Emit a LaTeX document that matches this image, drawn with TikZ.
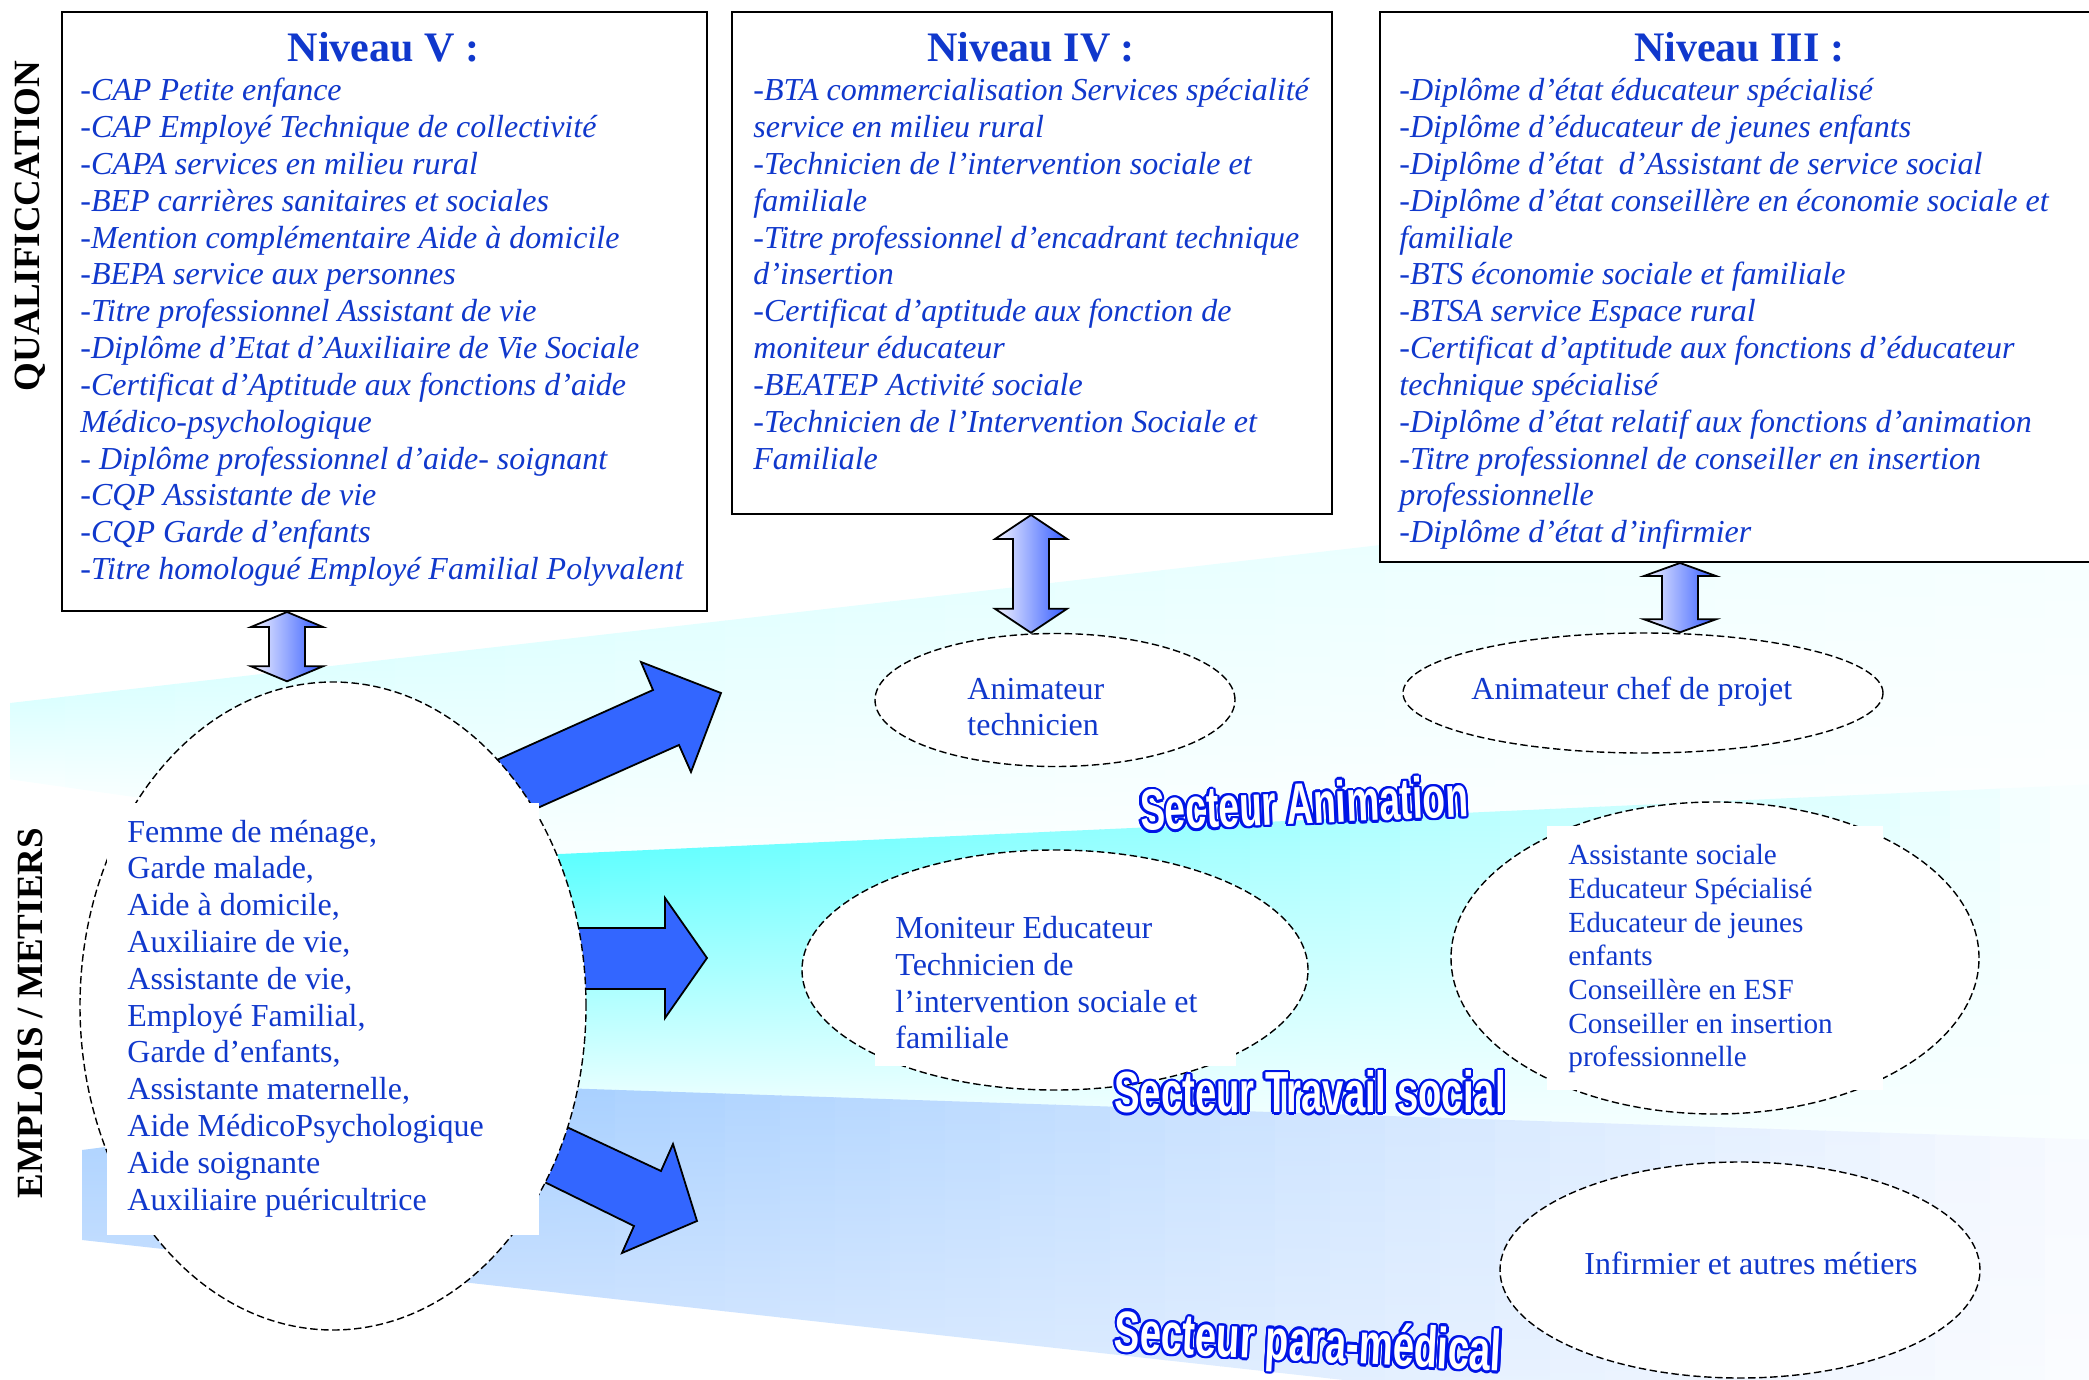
\documentclass[tikz,border=0pt]{standalone}
\usepackage{fontspec}
\setmainfont{Liberation Serif}
\newfontfamily\secfont{Liberation Sans}
\usepackage{graphicx}
\usetikzlibrary{shapes.geometric,calc}

\definecolor{txtblue}{RGB}{16,56,204}
\definecolor{secblue}{RGB}{0,20,230}
\definecolor{arrowblue}{RGB}{51,102,255}
\definecolor{dblL}{RGB}{245,245,255}
\definecolor{dblR}{RGB}{50,90,255}
\definecolor{AtopL}{RGB}{218,255,255}
\definecolor{AtopR}{RGB}{244,255,255}
\definecolor{AbotL}{RGB}{248,255,255}
\definecolor{AbotR}{RGB}{253,255,255}
\definecolor{TtopL}{RGB}{90,255,255}
\definecolor{TtopR}{RGB}{250,255,255}
\definecolor{TbotL}{RGB}{232,255,255}
\definecolor{TbotR}{RGB}{250,255,255}
\definecolor{MtopL}{RGB}{168,208,255}
\definecolor{MtopR}{RGB}{248,250,255}
\definecolor{MbotL}{RGB}{200,224,255}
\definecolor{MbotR}{RGB}{252,253,255}

\newcommand{\dblarrowpath}[3]{%
  \path[dblarrowstyle] let \p1=(#1), \p2=(#2) in
   (\x1,\y1) -- ({\x1+18pt},{\y1-#3}) -- ({\x1+9pt},{\y1-#3}) -- ({\x1+9pt},{\y2+#3})
   -- ({\x1+18pt},{\y2+#3}) -- (\x1,\y2) -- ({\x1-18pt},{\y2+#3}) -- ({\x1-9pt},{\y2+#3})
   -- ({\x1-9pt},{\y1-#3}) -- ({\x1-18pt},{\y1-#3}) -- cycle;
}
\newcommand{\sectorlabel}[5]{%
  \foreach \a [count=\k] in {0,22.5,...,337.5}{%
    \node[sectortxt, text=secblue, rotate=#3, shift={(\a:1.2pt)}] (#1o\k) at #2 {\scalebox{#4}[1]{#5}};
  }
  \node[sectortxt, text=white, rotate=#3] (#1) at #2 {\scalebox{#4}[1]{#5}};
}

\begin{document}
\begin{tikzpicture}[x=0.5pt,y=-0.5pt,
  box/.style={draw=black, line width=1pt, fill=white, inner sep=0pt, anchor=north west},
  itemtxt/.style={anchor=base west, inner sep=0pt, text=txtblue, font=\fontsize{16}{18}\selectfont\itshape},
  jobtxt/.style={anchor=base west, inner sep=0pt, text=txtblue, font=\fontsize{16}{18}\selectfont},
  smalljob/.style={anchor=base west, inner sep=0pt, text=txtblue, font=\fontsize{14.6}{17}\selectfont},
  leveltitle/.style={anchor=base, inner sep=0pt, text=txtblue, font=\fontsize{21}{24}\selectfont\bfseries},
  sidelabel/.style={rotate=90, inner sep=0pt, font=\fontsize{18.5}{20}\selectfont\bfseries},
  dashell/.style={ellipse, draw=black, dash pattern=on 3.7pt off 1.8pt, line width=0.7pt, fill=white, inner sep=0pt},
  blockarrow/.style={draw=black, line width=0.9pt, fill=arrowblue, line join=miter},
  dblarrowstyle/.style={draw=black, line width=0.9pt, left color=dblL, right color=dblR, line join=miter},
  sectortxt/.style={inner sep=0pt, font=\secfont\bfseries\fontsize{29}{30}\selectfont},
]
\useasboundingbox (0,0) rectangle (2089,1380);
\clip (0,0) rectangle (2089,1380);

% ---------- sector bands ----------
% Animation
\foreach \i in {0,...,37}{
  \pgfmathsetmacro\xa{10+55*\i}
  \pgfmathsetmacro\xb{\xa+56}
  \pgfmathsetmacro\yta{703-0.1153*(\xa-10)}
  \pgfmathsetmacro\ytb{703-0.1153*(\xb-10)}
  \pgfmathsetmacro\yba{\xa<560 ? 780+(\xa-15)*0.1431 : 858-0.0377*(\xa-560)}
  \pgfmathsetmacro\ybb{\xb<560 ? 780+(\xb-15)*0.1431 : 858-0.0377*(\xb-560)}
  \pgfmathtruncatemacro\p{max(0,min(100,100-(\xa+17)/20.9))}
  \shade[top color=AtopL!\p!AtopR, bottom color=AbotL!\p!AbotR]
    (\xa,\yta) -- (\xb,\ytb) -- (\xb,\ybb) -- (\xa,\yba) -- cycle;
}
% Travail social
\foreach \i in {0,...,35}{
  \pgfmathsetmacro\xa{300+50*\i}
  \pgfmathsetmacro\xb{\xa+51}
  \pgfmathsetmacro\yta{854-0.04545*(\xa-560)}
  \pgfmathsetmacro\ytb{854-0.04545*(\xb-560)}
  \pgfmathsetmacro\yba{1085+0.0333*(\xa-300)}
  \pgfmathsetmacro\ybb{1085+0.0333*(\xb-300)}
  \pgfmathtruncatemacro\p{max(0,min(100,100-(\xa-535)/15.4))}
  \shade[top color=TtopL!\p!TtopR, bottom color=TbotL!\p!TbotR]
    (\xa,\yta) -- (\xb,\ytb) -- (\xb,\ybb) -- (\xa,\yba) -- cycle;
}
% para-medical
\shade[top color=MtopL, bottom color=MbotL] (82,1150) -- (561,1088) -- (561,1293) -- (82,1240) -- cycle;
\foreach \i in {0,...,27}{
  \pgfmathsetmacro\xa{560+55*\i}
  \pgfmathsetmacro\xb{\xa+56}
  \pgfmathsetmacro\yta{1088+0.03377*(\xa-560)}
  \pgfmathsetmacro\ytb{1088+0.03377*(\xb-560)}
  \pgfmathsetmacro\yba{1293+0.111*(\xa-560)}
  \pgfmathsetmacro\ybb{1293+0.111*(\xb-560)}
  \pgfmathtruncatemacro\p{max(0,min(100,100-(\xa-533)/15.4))}
  \shade[top color=MtopL!\p!MtopR, bottom color=MbotL!\p!MbotR]
    (\xa,\yta) -- (\xb,\ytb) -- (\xb,\ybb) -- (\xa,\yba) -- cycle;
}

% ---------- big block arrows ----------
\draw[blockarrow] (470,772) -- (653,690) -- (641,662) -- (721,693) -- (691,772) -- (679,745) -- (515,818) -- cycle;
\draw[blockarrow] (540,928) -- (665,928) -- (665,898) -- (707,958) -- (665,1018) -- (665,989) -- (540,989) -- cycle;
\draw[blockarrow] (541,1115) -- (661,1171) -- (673,1144) -- (697,1221) -- (622,1253) -- (634,1226) -- (520,1170) -- cycle;

% ---------- ellipses ----------
\node[dashell, minimum width=253pt, minimum height=324pt] (jobs) at (333,1006) {};
\fill[white] (107,803) rectangle (539,1235);
\node[dashell, minimum width=180pt, minimum height=66.5pt] (anim1) at (1055,700) {};
\node[dashell, minimum width=240pt, minimum height=60pt] (anim2) at (1643,693) {};
\node[dashell, minimum width=253pt, minimum height=120pt] (soc1) at (1055,970) {};
\fill[white] (875,905) rectangle (1236,1066);
\node[dashell, minimum width=264pt, minimum height=156pt] (soc2) at (1715,958) {};
\fill[white] (1547,826) rectangle (1883,1090);
\node[dashell, minimum width=240pt, minimum height=108pt] (med1) at (1740,1270) {};

% ---------- boxes ----------
\node[box, minimum width=322.5pt, minimum height=299.5pt] (boxV) at (61,11) {};
\node[box, minimum width=300pt, minimum height=251pt] (boxIV) at (731,11) {};
\node[box, minimum width=360.5pt, minimum height=275pt] (boxIII) at (1379,11) {};

% ---------- double arrows ----------
\coordinate (vTop) at (287,0 |- boxV.south);
\coordinate (vBot) at (287,0 |- jobs.north);
\coordinate (ivTop) at (1031,0 |- boxIV.south);
\coordinate (ivBot) at (1031,0 |- anim1.north);
\coordinate (iiiTop) at (1680,0 |- boxIII.south);
\coordinate (iiiBot) at (1680,0 |- anim2.north);
\dblarrowpath{vTop}{vBot}{7.5pt}
\dblarrowpath{ivTop}{ivBot}{12pt}
\dblarrowpath{iiiTop}{iiiBot}{6.5pt}

% ---------- titles ----------
\node[leveltitle] (tV) at (383.5,62) {Niveau V :};
\node[leveltitle] (tIV) at (1031,62) {Niveau IV :};
\node[leveltitle] (tIII) at (1739,62) {Niveau III :};

% ---------- lists ----------
\foreach \t [count=\i from 0] in {
  -CAP Petite enfance,
  -CAP Employé Technique de collectivité,
  -CAPA services en milieu rural,
  -BEP carrières sanitaires et sociales,
  -Mention complémentaire Aide à domicile,
  -BEPA service aux personnes,
  -Titre professionnel Assistant de vie,
  -Diplôme d’Etat d’Auxiliaire de Vie Sociale,
  -Certificat d’Aptitude aux fonctions d’aide,
  Médico-psychologique,
  - Diplôme professionnel d’aide- soignant,
  -CQP Assistante de vie,
  -CQP Garde d’enfants,
  -Titre homologué Employé Familial Polyvalent}
  \node[itemtxt] (v\i) at (80,{101+36.8*\i}) {\t};

\foreach \t [count=\i from 0] in {
  -BTA commercialisation Services spécialité,
  service en milieu rural,
  -Technicien de l’intervention sociale et,
  familiale,
  -Titre professionnel d’encadrant technique,
  d’insertion,
  -Certificat d’aptitude aux fonction de,
  moniteur éducateur,
  -BEATEP Activité sociale,
  -Technicien de l’Intervention Sociale et,
  Familiale}
  \node[itemtxt] (iv\i) at (753,{101+36.8*\i}) {\t};

\foreach \t [count=\i from 0] in {
  -Diplôme d’état éducateur spécialisé,
  -Diplôme d’éducateur de jeunes enfants,
  -Diplôme d’état \ d’Assistant de service social,
  -Diplôme d’état conseillère en économie sociale et,
  familiale,
  -BTS économie sociale et familiale,
  -BTSA service Espace rural,
  -Certificat d’aptitude aux fonctions d’éducateur,
  technique spécialisé,
  -Diplôme d’état relatif aux fonctions d’animation,
  -Titre professionnel de conseiller en insertion,
  professionnelle,
  -Diplôme d’état d’infirmier}
  \node[itemtxt] (iii\i) at (1399,{101+36.8*\i}) {\t};

\foreach \t [count=\i from 0] in {
  {Femme de ménage,},
  {Garde malade,},
  {Aide à domicile,},
  {Auxiliaire de vie,},
  {Assistante de vie,},
  {Employé Familial,},
  {Garde d’enfants,},
  {Assistante maternelle,},
  {Aide MédicoPsychologique},
  {Aide soignante},
  {Auxiliaire puéricultrice}}
  \node[jobtxt] (j\i) at (127,{842+36.8*\i}) {\t};

\node[jobtxt] (a1a) at (967,699) {Animateur};
\node[jobtxt] (a1b) at (967,735.8) {technicien};
\node[jobtxt] (a2) at (1471,699) {Animateur chef de projet};

\foreach \t [count=\i from 0] in {
  Moniteur Educateur, Technicien de, l’intervention sociale et, familiale}
  \node[jobtxt] (s1\i) at (895,{938.5+36.8*\i}) {\t};

\foreach \t [count=\i from 0] in {
  Assistante sociale, Educateur Spécialisé, Educateur de jeunes, enfants,
  Conseillère en ESF, Conseiller en insertion, professionnelle}
  \node[smalljob] (s2\i) at (1568,{864.7+33.7*\i}) {\t};

\node[jobtxt, anchor=base] (m1) at (1751,1274) {Infirmier et autres métiers};

% ---------- sector labels ----------
\sectorlabel{secA}{(1304,803)}{2.5}{0.64}{Secteur Animation}
\sectorlabel{secT}{(1310,1092)}{0}{0.66}{Secteur Travail social}
\sectorlabel{secM}{(1308,1346)}{-3}{0.66}{Secteur para-médical}

% ---------- side labels ----------
\node[sidelabel] (qualif) at (30,226) {QUALIFICCATION};
\node[sidelabel] (emplois) at (30,1013) {EMPLOIS / METIERS};
\end{tikzpicture}
\end{document}
